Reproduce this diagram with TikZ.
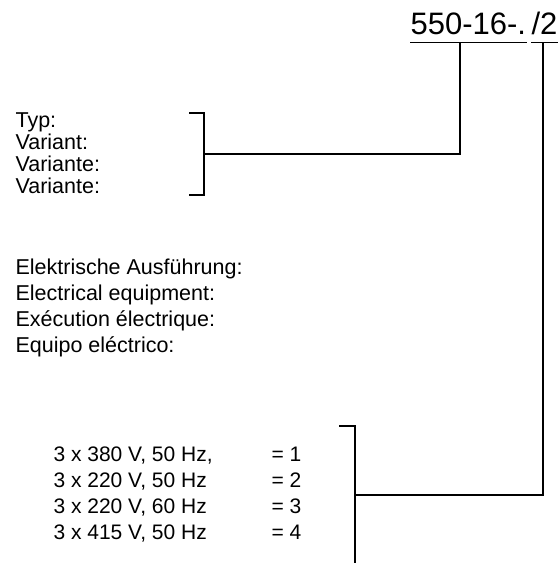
\documentclass[tikz,border=0pt]{standalone}
\usepackage{fontspec}
\setmainfont{Liberation Sans}
\usetikzlibrary{positioning}

\begin{document}
\begin{tikzpicture}[
    x=1pt, y=-1pt,
    line width=1.1pt,
    title/.style={inner sep=0pt, anchor=base west, text depth=8pt,
                  font=\fontsize{31}{34}\selectfont},
    lbl/.style={inner sep=0pt, anchor=base west, align=left},
]
\useasboundingbox (0,0) rectangle (559,563);

% type code (multi-line nodes sit on their last baseline)
\node[title] (code) at (410,34) {550-16-.};
\node[title] (volt) at (531,34) {/2};
\draw (code.south west) -- (code.south east);
\draw (volt.south west) -- (volt.south east);

% variant block
\node[lbl, font=\fontsize{21.5}{22}\selectfont] (typ) at (15,193)
    {Typ:\\Variant:\\Variante:\\Variante:};
\coordinate (typtop) at (204,113);
\coordinate (typbot) at (204,195);
\coordinate (typjoin) at (204,154);
\coordinate (codetap) at (460,42);
\draw (typtop) ++(-15,0) -- (typtop) -- (typbot) -- ++(-15,0);
\draw (typjoin) -| (codetap);

% electrical block
\node[lbl, font=\fontsize{21.5}{26}\selectfont] (elec) at (15,352)
    {Elektrische Ausführung:\\Electrical equipment:\\Exécution électrique:\\Equipo eléctrico:};

% supply options
\node[lbl, font=\fontsize{21}{26}\selectfont] (supply) at (53,539)
    {3 x 380 V, 50 Hz,\\3 x 220 V, 50 Hz\\3 x 220 V, 60 Hz\\3 x 415 V, 50 Hz};
\node[lbl, font=\fontsize{21}{26}\selectfont] (digit) at (271,539)
    {= 1\\= 2\\= 3\\= 4};
\coordinate (suptop) at (355,426);
\coordinate (supbot) at (355,563);
\coordinate (supjoin) at (355,495);
\coordinate (volttap) at (543,42);
\draw (suptop) ++(-16,0) -- (suptop) -- (supbot);
\draw (supjoin) -| (volttap);

\end{tikzpicture}
\end{document}
